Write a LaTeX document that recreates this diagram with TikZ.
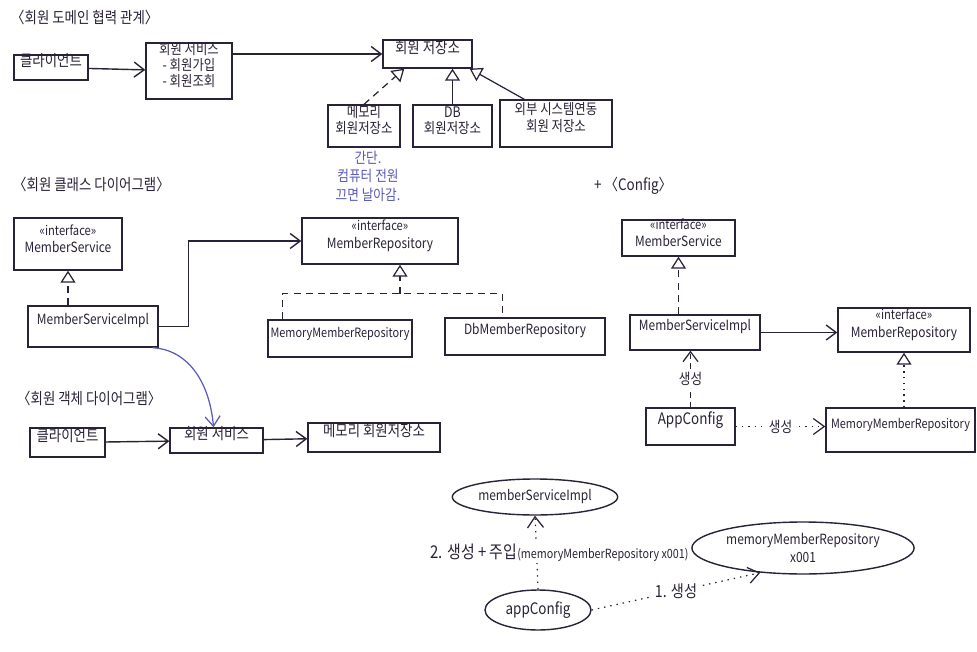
\documentclass[tikz,border=0pt]{standalone}
\usepackage{fontspec}
\setmainfont{Noto Sans CJK KR}[FakeStretch=0.85]
\usetikzlibrary{arrows.meta,shapes.geometric,fit}
\definecolor{ink}{HTML}{2A2236}
\definecolor{pen}{HTML}{5A5AB8}
\newcommand{\myiface}{{\fontsize{7.5}{9}\selectfont «interface»}\\}
\tikzset{
  box/.style={draw=ink, line width=0.8pt, inner sep=0pt, align=center, text=ink, font=\fontsize{9}{11}\selectfont},
  multi/.style={font=\fontsize{8.3}{9.2}\selectfont},
  latin/.style={font=\fontsize{8}{10}\selectfont},
  longtxt/.style={font=\fontsize{7.3}{9}\selectfont},
  ovalbox/.style={draw=ink, line width=0.8pt, ellipse, inner sep=1pt, align=center, text=ink, font=\fontsize{8}{10}\selectfont},
  title/.style={anchor=west, text=ink, font=\fontsize{9}{11}\selectfont},
  note/.style={text=pen, align=center, font=\fontsize{8.5}{10.5}\selectfont},
  arr/.style={draw=ink, line width=0.8pt, -{Straight Barb[length=0.2cm,width=0.3cm]}},
  realdash/.style={draw=ink, line width=0.7pt, dash pattern=on 4pt off 3pt, -{Triangle[open,length=0.24cm,width=0.3cm]}},
  realsolid/.style={draw=ink, line width=0.7pt, -{Triangle[open,length=0.24cm,width=0.3cm]}},
  realdot/.style={draw=ink, line width=0.7pt, dash pattern=on 0.8pt off 2.5pt, -{Triangle[open,length=0.24cm,width=0.3cm]}},
  dashline/.style={draw=ink, line width=0.7pt, dash pattern=on 4pt off 3pt},
  dasharr/.style={draw=ink, line width=0.7pt, dash pattern=on 3pt off 2.5pt, -{Straight Barb[length=0.2cm,width=0.3cm]}},
  dotarr/.style={draw=ink, line width=0.7pt, dash pattern=on 0.8pt off 2.8pt, -{Straight Barb[length=0.22cm,width=0.32cm]}},
  bluearr/.style={draw=pen, line width=0.7pt, -{Straight Barb[length=0.2cm,width=0.3cm]}},
  lbl/.style={fill=white, inner sep=1pt, text=ink, font=\fontsize{8.5}{10}\selectfont}
}
\begin{document}
\begin{tikzpicture}[x=0.02cm,y=-0.02cm]
\fill[white] (0,0) rectangle (977,652);
\useasboundingbox (0,0) rectangle (977,652);

% ---- domain collaboration
\node[title] (t1) at (5,17) {〈회원 도메인 협력 관계〉};
\node[box, fit={(14,55)(88,80)}] (a1) {클라이언트};
\node[box, multi, fit={(146,43)(232,99)}] (a2) {회원 서비스\\- 회원가입\\- 회원조회};
\node[box, fit={(383,40)(472,68)}] (a3) {회원 저장소};
\node[box, multi, fit={(328,105)(400,147)}] (a4) {메모리\\회원저장소};
\node[box, multi, fit={(413,105)(492,147)}] (a5) {DB\\회원저장소};
\node[box, multi, fit={(500,100)(612,147)}] (a6) {외부 시스템연동\\회원 저장소};
\draw[arr] (a1) -- (a2);
\draw[arr] (a2.east |- a3.west) -- (a3.west);
\draw[realdash] (a4.north) -- ([xshift=0.44cm]a3.south west);
\draw[realsolid] (a5.north) -- (a5.north |- a3.south);
\draw[realsolid] ([xshift=0.5cm]a6.north west) -- ([xshift=-0.06cm]a3.south east);
\node[note] (n1) at (368,176) {간단.\\컴퓨터 전원\\끄면 날아감.};

% ---- class diagram
\node[title] (t2) at (7,184) {〈회원 클래스 다이어그램〉};
\node[box, latin, fit={(14,218)(122,270)}] (ms) {\myiface MemberService};
\node[box, latin, fit={(28,306)(158,347)}] (msi) {MemberServiceImpl};
\node[box, latin, fit={(302,218)(458,264)}] (mr) {\myiface MemberRepository};
\node[box, longtxt, fit={(268,320)(412,357)}] (mmr) {MemoryMemberRepository};
\node[box, latin, fit={(445,318)(605,355)}] (dmr) {DbMemberRepository};
\draw[realdash] (msi.north -| ms.south) -- (ms.south);
\draw[arr] (msi.east) -- ++(30,0) |- (mr.west);
\coordinate (j) at ([xshift=0.4cm,yshift=-0.58cm]mr.south);
\draw[realdash] (j) -- (j |- mr.south);
\draw[dashline] ([xshift=0.3cm]mmr.north west) |- (j) -| ([xshift=1.16cm]dmr.north west);

% ---- object diagram
\node[title] (t3) at (11,398) {〈회원 객체 다이어그램〉};
\node[box, fit={(30,428)(105,457)}] (o1) {클라이언트};
\node[box, fit={(170,428)(263,453)}] (o2) {회원 서비스};
\node[box, fit={(308,423)(440,452)}] (o3) {메모리 회원저장소};
\draw[arr] (o1) -- (o2);
\draw[arr] (o2) -- (o3);
\draw[bluearr] ([xshift=-0.12cm]msi.south east) .. controls (190,350) and (210,385) .. ([xshift=-0.06cm]o2.north);

% ---- config
\node[title] (t4) at (588,186) {+ 〈Config〉};
\node[box, latin, fit={(622,220)(735,256)}] (c1) {\myiface MemberService};
\node[box, latin, fit={(630,315)(760,350)}] (c2) {MemberServiceImpl};
\node[box, latin, fit={(838,308)(970,352)}] (c3) {\myiface MemberRepository};
\node[box, fit={(646,408)(735,445)}] (c4) {AppConfig};
\node[box, longtxt, fit={(826,408)(975,452)}] (c5) {MemoryMemberRepository};
\draw[realdash] (c2.north -| c1.south) -- (c1.south);
\draw[arr] (c2.east) -- (c2.east -| c3.west);
\draw[realdot] (c5.north -| c3.south) -- (c3.south);
\draw[dasharr] (c4.north) -- node[lbl] {생성} (c4.north |- c2.south);
\draw[dotarr] (c4.east) -- node[lbl] {생성} (c4.east -| c5.west);

% ---- object instances
\node[ovalbox, minimum width=3cm, minimum height=0.72cm] (e1) at (535,497) {memberServiceImpl};
\node[ovalbox, minimum width=4cm, minimum height=1.04cm] (e2) at (803,548) {memoryMemberRepository\\x001};
\node[ovalbox, minimum width=2.12cm, minimum height=0.8cm, font=\fontsize{9}{10}\selectfont] (e3) at (538,610) {appConfig};
\draw[dotarr] (e3.north) -- node[lbl, xshift=0.46cm] {{\fontsize{10}{11}\selectfont 2. 생성 + 주입}{\fontsize{7.2}{8}\selectfont (memoryMemberRepository x001)}} (e1.south);
\draw[dotarr] (e3.east) -- node[lbl, pos=0.5, font=\fontsize{9.5}{10}\selectfont] {1. 생성} (e2.-150);
\end{tikzpicture}
\end{document}
